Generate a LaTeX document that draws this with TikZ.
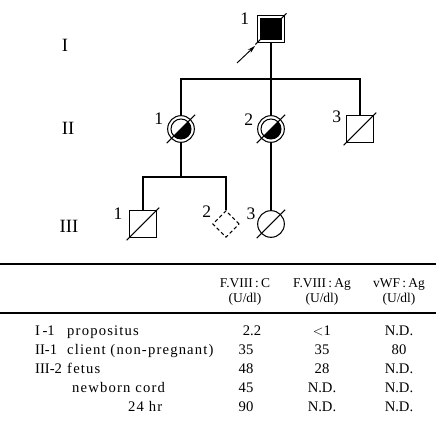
\documentclass[tikz,border=0pt]{standalone}
\usepackage{fontspec}
\setmainfont{Liberation Serif}
\usetikzlibrary{arrows.meta,positioning,shapes.geometric}
\tikzset{
  line/.style={line width=0.9pt},
  male/.style={
    rectangle, draw, line width=0.9pt, minimum size=0.8cm, inner sep=0pt
  },
  female/.style={
    circle, draw, line width=0.9pt, minimum size=0.8cm, inner sep=0pt
  },
  affected/.style={male,
    path picture={\fill ([shift={(0.07cm,0.07cm)}]path picture bounding box.south west)
      rectangle ([shift={(-0.07cm,-0.07cm)}]path picture bounding box.north east);}
  },
  carrier/.style={female,
    path picture={\draw[line width=0.9pt] (path picture bounding box.center) circle[radius=0.3cm];
      \fill (path picture bounding box.center) -- ++(45:0.3cm)
        arc[start angle=45, end angle=-135, radius=0.3cm] -- cycle;}
  },
  unknown/.style={
    diamond, draw, line width=0.9pt, dash pattern=on 3pt off 2.2pt,
    minimum width=0.8cm, minimum height=0.8cm, inner sep=0pt
  },
  slash/.style={line width=0.9pt},
  proband/.style={-{Stealth[length=2.4mm,width=1.3mm]}, line width=0.8pt},
  gen/.style={font=\fontsize{16}{16}\selectfont},
  num/.style={font=\fontsize{15}{15}\selectfont, inner sep=1pt},
  cell/.style={font=\fontsize{12.5}{13}\selectfont, inner sep=0pt},
  desc/.style={font=\fontsize{12.5}{13}\selectfont\addfontfeatures{LetterSpace=8}, inner sep=0pt},
  head/.style={font=\fontsize{11.5}{11.5}\selectfont, align=center, inner sep=0pt},
  rule/.style={line width=0.9pt}
}
\newcommand\deceased[2]{\draw[slash] ([shift={(-135:#2)}]#1.center) -- ([shift={(45:#2)}]#1.center);}

\begin{document}
\begin{tikzpicture}[x=0.03cm, y=0.03cm]
  \useasboundingbox (0,0) rectangle (436,423);
  % generations
  \node[gen] (g1) at (65,378) {I};
  \node[gen] (g2) at (68,295) {II};
  \node[gen] (g3) at (69,197) {III};
  % pedigree
  \node[affected] (I1) at (271,394) {};
  \node[carrier] (II1) at (181,294) {};
  \node[carrier] (II2) at (271,294) {};
  \node[male] (II3) at (360,294) {};
  \node[male] (III1) at (143,199) {};
  \node[unknown] (III2) at (226,199) {};
  \node[female] (III3) at (271,199) {};
  \coordinate (sib1) at (271,344);
  \coordinate (sib2) at (181,246);
  \coordinate (pro) at (237,360);
  \node[num, left=2mm of I1.north west, yshift=-1mm] (nI1) {1};
  \node[num, left=2mm of II1.north west] (nII1) {1};
  \node[num, left=2mm of II2.north west] (nII2) {2};
  \node[num, left=1.1mm of II3.north west, yshift=-0.6mm] (nII3) {3};
  \node[num, left=1.6mm of III1.north west, yshift=-1mm] (nIII1) {1};
  \node[num, left=4mm of III2.north, yshift=-0.6mm] (nIII2) {2};
  \node[num, left=1.3mm of III3.north west] (nIII3) {3};
  \draw[line] (I1) -- (II2);
  \draw[line] (II1.north) |- (sib1) -| (II3.north);
  \draw[line] (II1) -- (sib2);
  \draw[line] (III1.north) |- (sib2) -| (III2.north);
  \draw[line] (II2) -- (III3);
  \draw[proband] (pro) -- ([shift={(-2,-3)}]I1.south west);
  \deceased{I1}{22}
  \deceased{II1}{20}
  \deceased{II2}{20}
  \deceased{II3}{23}
  \deceased{III1}{23}
  \deceased{III3}{20}
  % table
  \draw[rule] (0,159) -- (436,159);
  \draw[rule] (0,110) -- (436,110);
  \node[head] (hC) at (245,131) {F.VIII\,:\,C\\[1pt](U/dl)};
  \node[head] (hAg) at (322,131) {F.VIII\,:\,Ag\\[1pt](U/dl)};
  \node[head] (hWF) at (399,131) {vWF\,:\,Ag\\[1pt](U/dl)};
  \node[cell, anchor=base west] (id1) at (35,87) {I\,-1};
  \node[desc, anchor=base west] (ds1) at (67,87) {propositus};
  \node[cell, anchor=base] (a1) at (252,87) {2.2};
  \node[cell, anchor=base] (b1) at (322,87) {$<$1};
  \node[cell, anchor=base] (c1) at (399,87) {N.D.};
  \node[cell, anchor=base west] (id2) at (35,68) {II-1};
  \node[desc, anchor=base west] (ds2) at (67,68) {client (non-pregnant)};
  \node[cell, anchor=base] (a2) at (246,68) {35};
  \node[cell, anchor=base] (b2) at (322,68) {35};
  \node[cell, anchor=base] (c2) at (399,68) {80};
  \node[cell, anchor=base west] (id3) at (35,49) {III-2};
  \node[desc, anchor=base west] (ds3) at (67,49) {fetus};
  \node[cell, anchor=base] (a3) at (246,49) {48};
  \node[cell, anchor=base] (b3) at (322,49) {28};
  \node[cell, anchor=base] (c3) at (399,49) {N.D.};
  \node[desc, anchor=base west] (ds4) at (72,30) {newborn cord};
  \node[cell, anchor=base] (a4) at (246,30) {45};
  \node[cell, anchor=base] (b4) at (322,30) {N.D.};
  \node[cell, anchor=base] (c4) at (399,30) {N.D.};
  \node[desc, anchor=base west] (ds5) at (128,11) {24 hr};
  \node[cell, anchor=base] (a5) at (246,11) {90};
  \node[cell, anchor=base] (b5) at (322,11) {N.D.};
  \node[cell, anchor=base] (c5) at (399,11) {N.D.};
\end{tikzpicture}
\end{document}
